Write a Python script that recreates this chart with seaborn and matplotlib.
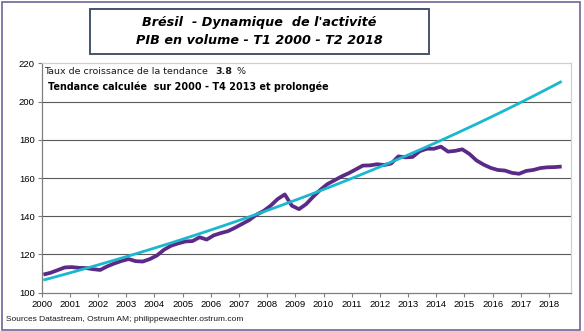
import numpy as np
import pandas as pd
import matplotlib
matplotlib.use("Agg")
import matplotlib.pyplot as plt
import seaborn as sns
from matplotlib.patches import Rectangle

# ---- data (quarterly, T1 2000 - T2 2018) ----
gdp = [109.5, 110.4, 111.8, 113.2, 113.4, 113.0, 112.9, 112.3,
       111.9, 113.8, 115.3, 116.6, 117.6, 116.5, 116.3, 117.6,
       119.5, 122.5, 124.6, 125.8, 126.8, 127.0, 129.0, 127.8,
       130.0, 131.2, 132.2, 134.0, 136.0, 138.0, 140.8, 142.7,
       145.5, 149.0, 151.4, 145.5, 143.7, 146.3, 150.2, 153.8,
       156.8, 158.8, 160.8, 162.5, 164.5, 166.5, 166.6, 167.2,
       166.8, 167.6, 171.3, 170.8, 171.0, 174.0, 175.3, 175.3,
       176.4, 173.8, 174.2, 175.0, 172.6, 169.2, 167.0, 165.3,
       164.2, 163.9, 162.7, 162.2, 163.7, 164.2, 165.2, 165.6,
       165.7, 166.0]
trend = [106.60, 107.60, 108.61, 109.62, 110.65, 111.69, 112.73, 113.79,
         114.86, 115.93, 117.02, 118.11, 119.22, 120.33, 121.46, 122.60,
         123.75, 124.90, 126.07, 127.25, 128.45, 129.65, 130.87, 132.09,
         133.33, 134.58, 135.84, 137.11, 138.40, 139.69, 141.00, 142.32,
         143.66, 145.00, 146.36, 147.73, 149.12, 150.51, 151.92, 153.35,
         154.78, 156.23, 157.70, 159.17, 160.66, 162.17, 163.69, 165.22,
         166.77, 168.33, 169.90, 171.50, 173.10, 174.72, 176.36, 178.01,
         179.68, 181.36, 183.06, 184.78, 186.51, 188.25, 190.02, 191.80,
         193.59, 195.41, 197.24, 199.08, 200.95, 202.83, 204.73, 206.65,
         208.58, 210.54]
year_ticks = list(range(2000, 2019))
y_ticks = [100, 120, 140, 160, 180, 200, 220]

n = len(gdp)
xpos = 2000.06 + 0.2519 * np.arange(n)
df = pd.DataFrame({"x": np.concatenate([xpos, xpos]),
                   "v": gdp + trend,
                   "s": ["PIB"] * n + ["Tendance"] * n})

sns.set_theme(style="white")
plt.rcParams["font.family"] = ["DejaVu Sans"]

fig = plt.figure(figsize=(5.84, 3.31), dpi=100)
ax = fig.add_axes([41.7 / 584, 1 - 292.7 / 331, (571 - 41.7) / 584, (292.7 - 63.3) / 331])

sns.lineplot(data=df, x="x", y="v", hue="s",
             palette={"PIB": "#5b2a86", "Tendance": "#1ab8cf"},
             ax=ax, legend=False, estimator=None, sort=False)
for line, lw in zip(ax.lines, [2.7, 2.0]):
    line.set_linewidth(lw)
    line.set_solid_capstyle("butt")
ax.lines[1].set_zorder(3)
ax.lines[0].set_zorder(2)

ax.set_xlim(2000, 2018.78)
ax.set_ylim(100, 220)
ax.set_xticks(year_ticks)
ax.set_xticklabels([str(y) for y in year_ticks], fontfamily="Liberation Sans", fontsize=6.8,
                   color="black")
ax.set_yticks(y_ticks)
ax.set_yticklabels([str(y) for y in y_ticks], fontfamily="Liberation Sans", fontsize=6.8,
                   color="black")
ax.set_xlabel("")
ax.set_ylabel("")
ax.tick_params(axis="both", length=3, width=0.8, color="#7f7f7f", pad=2, direction="out",
               bottom=True, left=True)
for yv in y_ticks[1:-1]:
    ax.axhline(yv, color="#595959", lw=0.8, zorder=1)
for s in ["left", "bottom"]:
    ax.spines[s].set_color("#7f7f7f")
    ax.spines[s].set_linewidth(0.9)
for s in ["top", "right"]:
    ax.spines[s].set_color("#d0d0d0")
    ax.spines[s].set_linewidth(0.9)

# annotations inside plot
fig.text(44.5 / 584, 1 - 71 / 331, "Taux de croissance de la tendance", fontsize=6.8,
         va="center", ha="left", color="#1a1a1a")
fig.text(215.5 / 584, 1 - 71 / 331, "3.8", fontsize=6.8, fontweight="bold",
         va="center", ha="left", color="#1a1a1a")
fig.text(236.5 / 584, 1 - 71 / 331, "%", fontsize=6.8, va="center", ha="left", color="#1a1a1a")
fig.text(48.3 / 584, 1 - 86.7 / 331, "Tendance calculée  sur 2000 - T4 2013 et prolongée",
         fontsize=6.9, fontweight="bold", va="center", ha="left", color="#000000")

# title box
fig.patches.append(Rectangle((90 / 584, 1 - 54 / 331), (429 - 90) / 584, (54 - 9) / 331,
                             transform=fig.transFigure, facecolor="white",
                             edgecolor="#44546a", lw=1.4, zorder=5))
fig.text(259.5 / 584, 1 - 22.5 / 331, "Brésil  - Dynamique  de l'activité", fontsize=9.2,
         fontweight="bold", fontstyle="italic", ha="center", va="center", zorder=6,
         color="black")
fig.text(259.5 / 584, 1 - 40.5 / 331, "PIB en volume - T1 2000 - T2 2018", fontsize=9.2,
         fontweight="bold", fontstyle="italic", ha="center", va="center", zorder=6,
         color="black")

# footer
fig.text(6.5 / 584, 1 - 319.5 / 331, "Sources Datastream, Ostrum AM; philippewaechter.ostrum.com",
         fontfamily="Liberation Sans", fontsize=6.0, ha="left", va="center", color="#1a1a1a")

# outer border
fig.patches.append(Rectangle((1.5 / 584, 1 - 329.5 / 331), (580 - 1.5) / 584, (329.5 - 1.5) / 331,
                             transform=fig.transFigure, facecolor="none",
                             edgecolor="#6e6596", lw=1.2, zorder=0))

fig.savefig("out.png", dpi=100)
